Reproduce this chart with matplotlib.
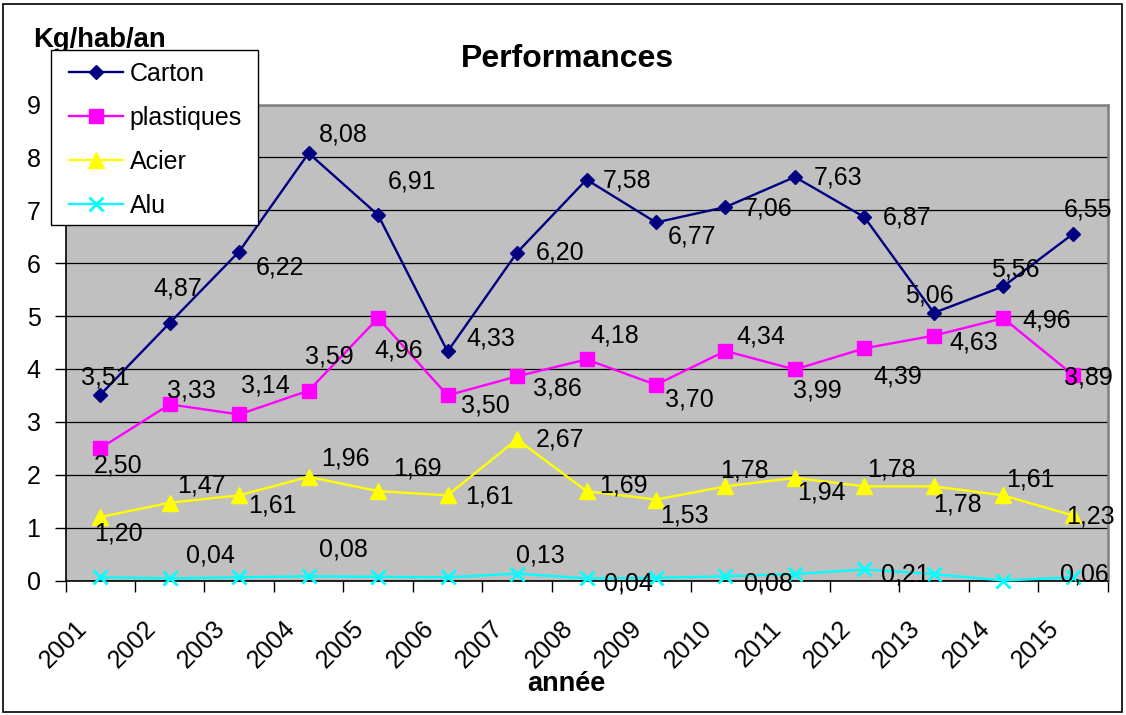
import matplotlib
matplotlib.use("Agg")
import matplotlib.pyplot as plt
from matplotlib.patches import Rectangle
import matplotlib.transforms as mtransforms
import numpy as np

plt.rcParams['font.family'] = ['Liberation Sans', 'DejaVu Sans']

years = ['2001', '2002', '2003', '2004', '2005', '2006', '2007', '2008',
         '2009', '2010', '2011', '2012', '2013', '2014', '2015']
carton = [3.51, 4.87, 6.22, 8.08, 6.91, 4.33, 6.20, 7.58, 6.77, 7.06, 7.63, 6.87, 5.06, 5.56, 6.55]
plastiques = [2.50, 3.33, 3.14, 3.59, 4.96, 3.50, 3.86, 4.18, 3.70, 4.34, 3.99, 4.39, 4.63, 4.96, 3.89]
acier = [1.20, 1.47, 1.61, 1.96, 1.69, 1.61, 2.67, 1.69, 1.53, 1.78, 1.94, 1.78, 1.78, 1.61, 1.23]
alu = [0.06, 0.04, 0.06, 0.08, 0.07, 0.06, 0.13, 0.04, 0.05, 0.08, 0.12, 0.21, 0.12, 0.00, 0.06]
y_ticks = [0, 1, 2, 3, 4, 5, 6, 7, 8, 9]

# label offsets in pixels from the marker: (dx right, baseline dy down); None = hidden
off_carton = [(5, -10), (8, -27), (41, 23), (35, -12), (34, -27), (43, -6), (43, 7), (41, 8),
              (36, 21), (43, 8), (43, 8), (43, 7), (-4, -10), (12, -10), (15, -18)]
off_plast = [(18, 24), (22, -7), (26, -22), (21, -27), (21, 39), (38, 17), (40, 19), (28, -17),
             (33, 22), (35, -7), (22, 28), (33, 35), (40, 14), (43, 9), (16, 10)]
off_acier = [(18, 23), (32, -10), (33, 17), (37, -11), (39, -16), (42, 8), (43, 7), (37, 1),
             (28, 23), (19, -9), (27, 22), (27, -10), (24, 25), (27, -9), (18, 8)]
off_alu = [None, (41, -16), None, (35, -20), None, None, (23, -11), (42, 12),
           None, (43, 14), None, (41, 12), None, None, (12, 4)]

W, H = 1126, 715
fig = plt.figure(figsize=(W / 100, H / 100), dpi=100)
fig.patch.set_facecolor('white')
fig.patches.append(Rectangle((3 / W, 3 / H), 1 - 7 / W, 1 - 7 / H, transform=fig.transFigure,
                             fill=False, edgecolor='black', linewidth=1.2, zorder=0))

left, right, top, bottom = 65.5, 1107.5, 104.5, 580.5
ax = fig.add_axes([left / W, 1 - bottom / H, (right - left) / W, (bottom - top) / H])
ax.set_facecolor('#C0C0C0')

x = np.arange(len(years))
series = [
    ('Carton', carton, '#000080', 'D', 7.2, 1.0, off_carton),
    ('plastiques', plastiques, '#FF00FF', 's', 9.6, 1.0, off_plast),
    ('Acier', acier, '#FFFF00', '^', 11, 1.0, off_acier),
    ('Alu', alu, '#00FFFF', 'x', 9.5, 2.0, off_alu),
]
handles = []
for name, vals, col, mk, ms, mew, offs in series:
    ln, = ax.plot(x, vals, color=col, marker=mk, markersize=ms, linewidth=1.7,
                  markeredgewidth=mew, markeredgecolor=col, label=name,
                  zorder=3, clip_on=False)
    handles.append(ln)
    for xi, v, o in zip(x, vals, offs):
        if o is None:
            continue
        ax.annotate(f"{v:.2f}".replace('.', ','), (xi, v), xytext=(o[0], -o[1]),
                    textcoords='offset pixels', ha='center', va='baseline',
                    fontsize=18, color='black', zorder=4, annotation_clip=False)

ax.set_xlim(-0.5, len(years) - 0.5)
ax.set_ylim(0, 9)
ax.set_yticks(y_ticks)
ax.set_yticklabels([str(t) for t in y_ticks], fontsize=18)
ax.yaxis.grid(True, color='black', linewidth=0.9)
ax.set_axisbelow(True)
ax.tick_params(axis='y', direction='out', length=8, width=1, pad=10)

ax.set_xticks(x)
ax.set_xticklabels(years, fontsize=18, rotation=45, ha='right', va='center',
                   rotation_mode='anchor')
ax.tick_params(axis='x', which='major', length=0, pad=32)
ax.set_xticks(np.arange(-0.5, len(years), 1.0), minor=True)
ax.tick_params(axis='x', which='minor', direction='out', length=8, width=1)
shift = mtransforms.ScaledTranslation(-0.175, 0, fig.dpi_scale_trans)
for lbl in ax.get_xticklabels():
    lbl.set_transform(lbl.get_transform() + shift)

for s in ['top', 'right']:
    ax.spines[s].set_color('#808080')
    ax.spines[s].set_linewidth(1.8)
for s in ['left', 'bottom']:
    ax.spines[s].set_color('black')
    ax.spines[s].set_linewidth(1.2)

fig.text(567 / W, 1 - 67 / H, 'Performances', ha='center', va='baseline',
         fontsize=23, fontweight='bold')
fig.text(33 / W, 1 - 46.7 / H, 'Kg/hab/an', ha='left', va='baseline',
         fontsize=19.8, fontweight='bold')
fig.text(566 / W, 1 - 691 / H, 'année', ha='center', va='baseline',
         fontsize=19.5, fontweight='bold')

# legend box and entries
fig.patches.append(Rectangle((51 / W, 1 - 225 / H), 207 / W, 175 / H, transform=fig.transFigure,
                             facecolor='white', edgecolor='black', linewidth=1.0, zorder=5))
leg = fig.legend(handles, [s[0] for s in series], loc='upper left',
                 bbox_to_anchor=(69 / W, 1 - 61.6 / H), bbox_transform=fig.transFigure,
                 borderaxespad=0, borderpad=0, fontsize=18, frameon=False,
                 handlelength=2.16, handletextpad=0.27, labelspacing=0.80)
leg.set_zorder(6)

fig.savefig('out.png', dpi=100)
